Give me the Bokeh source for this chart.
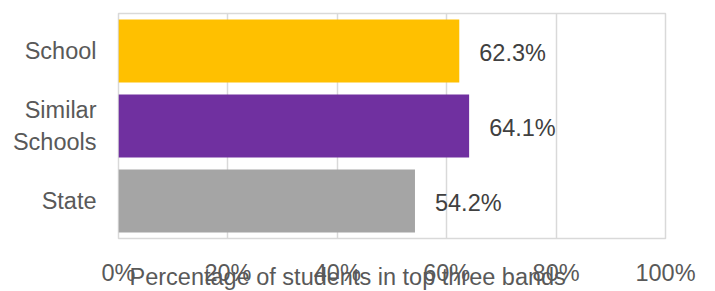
from bokeh.plotting import figure
from bokeh.models import ColumnDataSource, FactorRange, FixedTicker, PrintfTickFormatter, Title
from bokeh.core.properties import value
from bokeh.embed import file_html
from bokeh.resources import INLINE

categories = ["School", "Similar\nSchools", "State"]
percentages = [62.3, 64.1, 54.2]
bar_colors = ["#FFC000", "#7030A0", "#A5A5A5"]
value_labels = ["62.3%", "64.1%", "54.2%"]
x_ticks = [0, 20, 40, 60, 80, 100]
axis_title = "Percentage of students in top three bands"

FONT = "Liberation Sans"
FS = "23.5px"

src = ColumnDataSource(dict(cat=categories, val=percentages, color=bar_colors, lab=value_labels))

p = figure(width=715, height=291, output_backend="svg", toolbar_location=None,
           y_range=FactorRange(factors=categories[::-1], range_padding=0),
           x_range=(0, 100),
           min_border_left=118, min_border_right=50, min_border_top=13, min_border_bottom=53)

p.hbar(y="cat", right="val", left=0, height=0.84, color="color", source=src, line_color=None)
p.text(x="val", y="cat", text="lab", source=src, x_offset=20, y_offset=2, text_align="left",
       text_baseline="middle", text_font=value(FONT), text_font_size=FS, text_color="#404040")

p.outline_line_color = "#d9d9d9"
p.outline_line_width = 1.5
p.ygrid.grid_line_color = None
p.xgrid.grid_line_color = "#d9d9d9"
p.xgrid.grid_line_width = 1.5
p.xaxis.ticker = FixedTicker(ticks=x_ticks)
p.xaxis.formatter = PrintfTickFormatter(format="%d%%")

for ax in (p.xaxis, p.yaxis):
    ax.axis_line_color = None
    ax.major_tick_line_color = None
    ax.minor_tick_line_color = None
    ax.major_label_text_font = FONT
    ax.major_label_text_font_size = FS
    ax.major_label_text_color = "#595959"

p.xaxis.major_label_standoff = 15
p.yaxis.major_label_standoff = 16

title_below = Title(text=axis_title, align="left", offset=11, standoff=-49, vertical_align="top",
                    text_font=FONT, text_font_size=FS, text_font_style="normal",
                    text_color="#595959")
p.add_layout(title_below, "below")

open("out.html", "w").write(file_html(p, INLINE))
